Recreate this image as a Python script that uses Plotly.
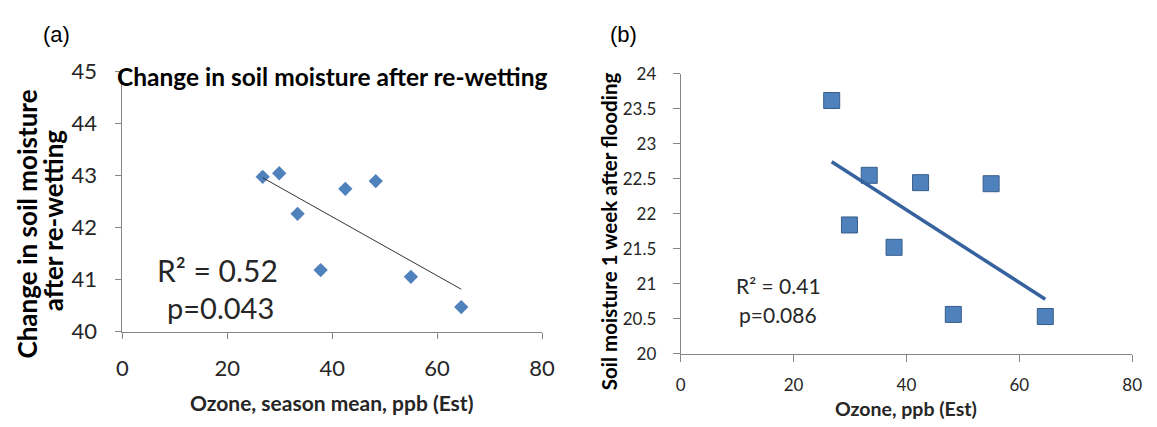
import numpy as np
import plotly.graph_objects as go

# Seasonal mean ozone estimate (ppb) for each plot
ozone = [26.75, 29.9, 33.4, 37.8, 42.5, 48.3, 55.0, 64.6]
# (a) change in soil moisture after re-wetting
moisture_rewet = [42.97, 43.04, 42.26, 41.18, 42.74, 42.89, 41.05, 40.47]
# (b) soil moisture one week after flooding
moisture_flood = [23.62, 21.84, 22.55, 21.52, 22.445, 20.56, 22.43, 20.53]

x_ticks = [0, 20, 40, 60, 80]
ya_ticks = [40, 41, 42, 43, 44, 45]
yb_ticks = [20, 20.5, 21, 21.5, 22, 22.5, 23, 23.5, 24]

stats_a = ["R² = 0.52", "p=0.043"]
stats_b = ["R² = 0.41", "p=0.086"]

W, H = 1157, 427
FONT = "Lato, Carlito, Calibri, sans-serif"
BLUE = "#4F81BD"
AXIS = "#868686"
TXT = "#262626"


def px(x):
    return x / W


def py(y):
    return 1 - y / H


def trend(xs, ys):
    slope, icpt = np.polyfit(xs, ys, 1)
    xx = np.array([min(xs), max(xs)])
    return xx, slope * xx + icpt


fig = go.Figure()

# panel (a)
fig.add_trace(go.Scatter(
    x=ozone, y=moisture_rewet, mode="markers", xaxis="x", yaxis="y",
    marker=dict(symbol="diamond", size=11, color=BLUE, line=dict(width=0)),
    showlegend=False))
tx, ty = trend(ozone, moisture_rewet)
fig.add_trace(go.Scatter(
    x=tx, y=ty, mode="lines", xaxis="x", yaxis="y",
    line=dict(color="#333333", width=1), showlegend=False))

# panel (b)
fig.add_trace(go.Scatter(
    x=ozone, y=moisture_flood, mode="markers", xaxis="x2", yaxis="y2",
    marker=dict(symbol="square", size=16, color=BLUE,
                line=dict(width=1, color="#385D8A")),
    showlegend=False))
tx, ty = trend(ozone, moisture_flood)
fig.add_trace(go.Scatter(
    x=tx, y=ty, mode="lines", xaxis="x2", yaxis="y2",
    line=dict(color="#36639E", width=3.5), showlegend=False))

axis_common = dict(showgrid=False, zeroline=False, showline=True,
                   linecolor=AXIS, linewidth=1, ticks="outside",
                   tickcolor=AXIS, tickwidth=1)

fig.update_layout(
    width=W, height=H, margin=dict(l=0, r=0, t=0, b=0),
    paper_bgcolor="white", plot_bgcolor="white",
    xaxis=dict(domain=[px(118.3), px(545)], range=[0, 80], tickvals=x_ticks,
               ticklen=6, ticklabelstandoff=11,
               tickfont=dict(family=FONT, size=22, color=TXT),
               anchor="y", **axis_common),
    yaxis=dict(domain=[py(339), py(61)], range=[40, 45], tickvals=ya_ticks,
               ticklen=6, ticklabelstandoff=14,
               tickfont=dict(family=FONT, size=22, color=TXT),
               anchor="x", **axis_common),
    xaxis2=dict(domain=[px(686), px(1145)], range=[0, 80], tickvals=x_ticks,
                ticklen=7, ticklabelstandoff=9,
                tickfont=dict(family=FONT, size=17, color=TXT),
                anchor="y2", **axis_common),
    yaxis2=dict(domain=[py(362.5), py(64)], range=[20, 24], tickvals=yb_ticks,
                ticklen=7, ticklabelstandoff=13,
                tickfont=dict(family=FONT, size=17, color=TXT),
                anchor="x2", **axis_common),
)


def label(text, x, y, size, bold=False, angle=0, family=FONT, color="black"):
    fig.add_annotation(
        text=f"<b>{text}</b>" if bold else text,
        x=px(x), y=py(y), xref="paper", yref="paper",
        xanchor="center", yanchor="middle", showarrow=False,
        textangle=angle, font=dict(family=family, size=size, color=color))


ARIAL = "Liberation Sans, Arial, sans-serif"
label("(a)", 51, 22, 22, family=ARIAL)
label("(b)", 628, 22, 22, family=ARIAL)

# panel (a) texts
label("Change in soil moisture after re-wetting", 331.5, 67, 24.5, bold=True)
label("Change in soil moisture", 21, 224, 26, bold=True, angle=-90)
label("after re-wetting", 48, 220, 26, bold=True, angle=-90)
label("Ozone, season mean, ppb (Est)", 331, 415, 21, bold=True, color=TXT)
label(stats_a[0], 215, 273, 30, color=TXT)
label(stats_a[1], 218, 313, 29, color=TXT)

# panel (b) texts
label("Soil moisture 1 week after flooding", 613, 232, 20.5, bold=True, angle=-90)
label("Ozone, ppb (Est)", 915, 421, 19.5, bold=True, color=TXT)
label(stats_b[0], 785, 290, 21, color=TXT)
label(stats_b[1], 785, 321, 21, color=TXT)

fig.write_html("out.html")
